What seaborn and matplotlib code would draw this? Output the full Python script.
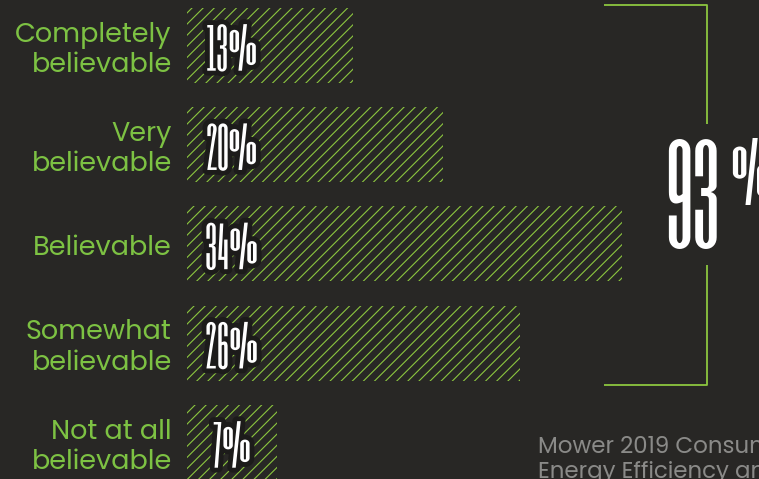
import matplotlib
matplotlib.use("Agg")
import matplotlib.pyplot as plt
import matplotlib.patheffects as pe
import seaborn as sns
import pandas as pd

categories = ["Completely\nbelievable", "Very\nbelievable", "Believable",
              "Somewhat\nbelievable", "Not at all\nbelievable"]
values = [13, 20, 34, 26, 7]
value_labels = ["13%", "20%", "34%", "26%", "7%"]
source_lines = ["Mower 2019 Consumer Survey:", "Energy Efficiency and Home Comfort"]

BG = "#282725"
GREEN = "#7dc243"
HATCH = "#8cc63f"
LABEL_FONT = ["Poppins", "DejaVu Sans"]
NUM_FONT = ["Six Caps", "Antonio", "DejaVu Sans"]

sns.set_theme(style="white")
plt.rcParams["hatch.linewidth"] = 0.8
plt.rcParams["font.family"] = LABEL_FONT

df = pd.DataFrame({"cat": categories, "val": values})

fig = plt.figure(figsize=(7.59, 4.79), dpi=100, facecolor=BG)
ax = fig.add_axes([0, 0, 1, 1])
ax.set_facecolor(BG)
sns.barplot(data=df, x="val", y="cat", orient="h", ax=ax, width=0.756,
            color=BG, edgecolor=HATCH, linewidth=0, hatch="///")
for p in ax.patches:
    p.set_facecolor(BG)
    p.set_edgecolor(HATCH)
    p.set_hatch("///")
    p.set_linewidth(0)

ax.set_xlim(-14.61, 44.69)
ax.set_ylim(4.368, -0.458)
ax.axis("off")

for i, (cat, lab) in enumerate(zip(categories, value_labels)):
    ax.text(-1.2, i + 0.05, cat, ha="right", va="center", multialignment="right",
            color=GREEN, fontsize=19.5, linespacing=1.17, family=LABEL_FONT)
    ax.text(3.5, i + 0.02, lab, ha="center", va="center", color="white",
            fontsize=39, family=NUM_FONT,
            path_effects=[pe.withStroke(linewidth=7, foreground="#1c1b1a")])

# bracket around top four
total = sum(values[:4])
mx = max(values)
x0, x1 = mx - 1.4, mx + 6.6
ytop, ybot = -0.378 - 0.03, 3 + 0.378 + 0.04
lw = 1.3
ax.plot([x0, x1, x1], [ytop, ytop, 0.79], color=HATCH, lw=lw, solid_capstyle="butt")
ax.plot([x1, x1, x0], [2.21, ybot, ybot], color=HATCH, lw=lw, solid_capstyle="butt")
t93 = ax.text(x1 - 3.35, 1.5, f"{total}", ha="left", va="center", color="white",
              fontsize=90, family=NUM_FONT)
ax.annotate("%", xy=(1, 1), xycoords=t93, xytext=(7, 1), textcoords="offset points",
            ha="left", va="top", color="white", fontsize=56, family=NUM_FONT)

fig.text(538 / 759, 1 - 453 / 479, source_lines[0], color="#8a8a88", fontsize=16.5, va="baseline")
fig.text(538 / 759, 1 - 478 / 479, source_lines[1], color="#8a8a88", fontsize=16.5, va="baseline")

fig.savefig("out.png", dpi=100, facecolor=BG)
